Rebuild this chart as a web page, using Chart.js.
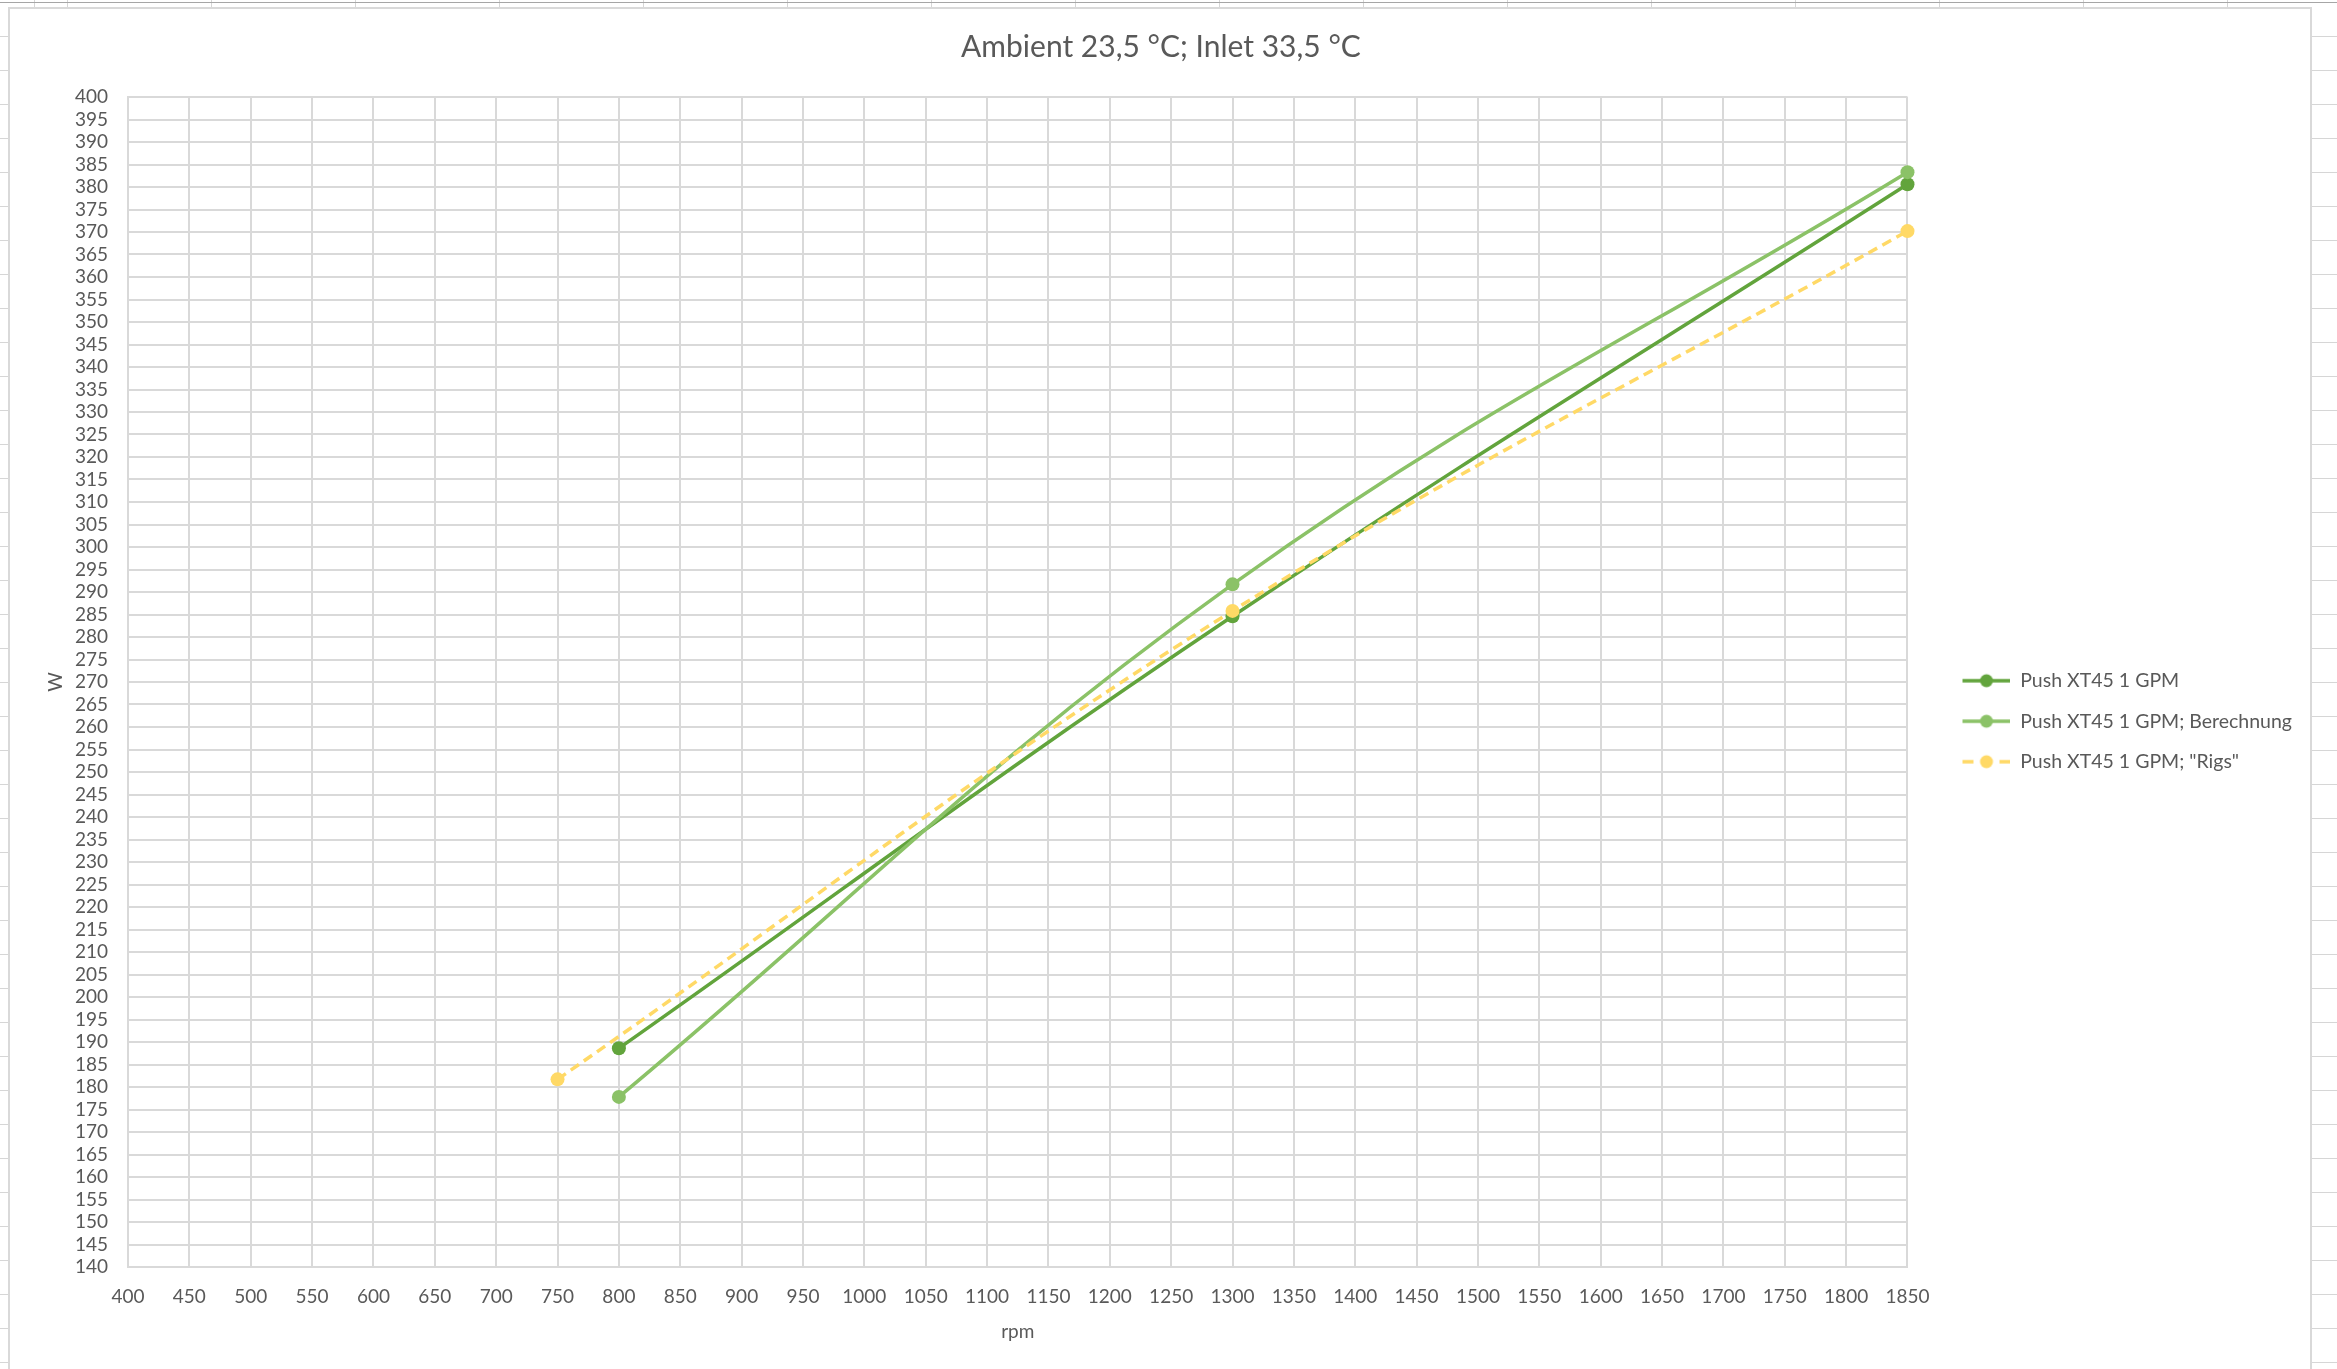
<!DOCTYPE html>
<html>
<head>
<meta charset="utf-8">
<script src="https://cdn.jsdelivr.net/npm/chart.js@4.4.1/dist/chart.umd.min.js"></script>
<style>
  html, body {
    margin: 0;
    padding: 0;
  }
  body {
    width: 2337px;
    height: 1369px;
    overflow: hidden;
    position: relative;
    background-color: #fff;
    background-image:
      repeating-linear-gradient(to bottom, #d6d6d6 0 1px, transparent 1px 34px),
      repeating-linear-gradient(to right, #d6d6d6 0 1px, transparent 1px 144px);
    background-position: 0 2px, 67px 0;
  }
  #topline {
    position: absolute;
    left: 0; top: 2px;
    width: 2337px; height: 1px;
    background: #a6a6a6;
  }
  #frame {
    position: absolute;
    left: 8px; top: 7px;
    width: 2304px; height: 1370px;
    box-sizing: border-box;
    border: 2px solid #d9d9d9;
    background: #fff;
  }
  #wrap {
    position: relative;
    width: 2300px;
    height: 1362px;
  }
</style>
</head>
<body>
<div id="topline"></div>
<div id="frame">
  <div id="wrap"><canvas id="lineChart"></canvas></div>
</div>
<script>
// values
const chartTitle = 'Ambient 23,5 °C; Inlet 33,5 °C';
const seriesNames = ['Push XT45 1 GPM', 'Push XT45 1 GPM; Berechnung', 'Push XT45 1 GPM; "Rigs"'];

const rpmMeasured = [800, 1300, 1850];
const wattMeasured = [188.6, 284.6, 380.6];

const rpmCalc = [800, 1300, 1850];
const wattCalc = [177.8, 291.7, 383.3];

const rpmRigs = [750, 1300, 1850];
const wattRigs = [181.7, 285.8, 370.2];

const xMin = 400, xMax = 1850, xStep = 50;
const yMin = 140, yMax = 400, yStep = 5;

const darkGreen = '#62a43c';
const lightGreen = '#8bc267';
const yellow = '#ffd966';
const textGrey = '#595959';
const gridGrey = '#d9d9d9';

function toPoints(xs, ys) {
	return xs.map((x, i) => ({ x: x, y: ys[i] }));
}

// little line + dot picture for the legend (left part stays empty)
function legendGlyph(color, dashed) {
	const c = document.createElement('canvas');
	c.width = 82;
	c.height = 16;
	const g = c.getContext('2d');
	g.strokeStyle = color;
	g.lineWidth = 3.5;
	if (dashed) g.setLineDash([11, 26]);
	g.beginPath();
	g.moveTo(34, 8);
	g.lineTo(82, 8);
	g.stroke();
	g.setLineDash([]);
	g.fillStyle = color;
	g.beginPath();
	g.arc(58, 8, 6.5, 0, Math.PI * 2);
	g.fill();
	return c;
}

const glyphs = [
	legendGlyph(darkGreen, false),
	legendGlyph(lightGreen, false),
	legendGlyph(yellow, true)
];

Chart.defaults.font.family = 'Lato, "Open Sans", sans-serif';
Chart.defaults.color = textGrey;

const plain = (v) => String(v);

const ctx = document.getElementById('lineChart').getContext('2d');

new Chart(ctx, {
	type: 'line',
	data: {
		datasets: [
			{
				label: seriesNames[0],
				data: toPoints(rpmMeasured, wattMeasured),
				borderColor: darkGreen,
				backgroundColor: darkGreen,
				borderWidth: 3.5,
				pointRadius: 7,
				pointBorderWidth: 0,
				tension: 0.4,
				clip: false,
				order: 3
			},
			{
				label: seriesNames[1],
				data: toPoints(rpmCalc, wattCalc),
				borderColor: lightGreen,
				backgroundColor: lightGreen,
				borderWidth: 3.5,
				pointRadius: 7,
				pointBorderWidth: 0,
				tension: 0.4,
				clip: false,
				order: 2
			},
			{
				label: seriesNames[2],
				data: toPoints(rpmRigs, wattRigs),
				borderColor: yellow,
				backgroundColor: yellow,
				borderWidth: 3.5,
				borderDash: [10, 6],
				pointRadius: 7,
				pointBorderWidth: 0,
				tension: 0.4,
				clip: false,
				order: 1
			}
		]
	},
	options: {
		responsive: true,
		maintainAspectRatio: false,
		animation: false,
		layout: {
			padding: { left: 10, right: 8, top: 0, bottom: 28 }
		},
		plugins: {
			tooltip: { enabled: false },
			title: {
				display: true,
				text: chartTitle,
				color: textGrey,
				font: { size: 30, weight: 'normal' },
				padding: { top: 20, bottom: 32 }
			},
			legend: {
				position: 'right',
				align: 'start',
				title: {
					display: true,
					text: '',
					font: { size: 10 },
					padding: { top: 629, bottom: 0 }
				},
				labels: {
					usePointStyle: true,
					pointStyleWidth: 82,
					padding: 21,
					color: textGrey,
					font: { size: 19.5 },
					generateLabels: (chart) => {
						const items = Chart.defaults.plugins.legend.labels.generateLabels(chart);
						items.sort((a, b) => a.datasetIndex - b.datasetIndex);
						items.forEach(it => { it.pointStyle = glyphs[it.datasetIndex]; });
						return items;
					}
				}
			}
		},
		scales: {
			x: {
				type: 'linear',
				min: xMin,
				max: xMax,
				afterFit: (scale) => { scale.height = 76; },
				grid: { color: gridGrey, lineWidth: 2, drawTicks: false },
				border: { color: gridGrey, width: 2 },
				ticks: { stepSize: xStep, padding: 18, color: textGrey, font: { size: 19 }, maxRotation: 0, callback: plain },
				title: { display: true, text: 'rpm', color: textGrey, font: { size: 19 }, padding: { top: 13, bottom: 0 } }
			},
			y: {
				type: 'linear',
				min: yMin,
				max: yMax,
				afterFit: (scale) => { scale.width = 108; },
				grid: { color: gridGrey, lineWidth: 2, drawTicks: false },
				border: { color: gridGrey, width: 2 },
				ticks: { stepSize: yStep, autoSkip: false, padding: 20, color: textGrey, font: { size: 19 }, callback: plain },
				title: { display: true, text: 'W', color: textGrey, font: { size: 19 }, padding: { top: 24, bottom: 10 } }
			}
		}
	}
});
</script>
</body>
</html>
